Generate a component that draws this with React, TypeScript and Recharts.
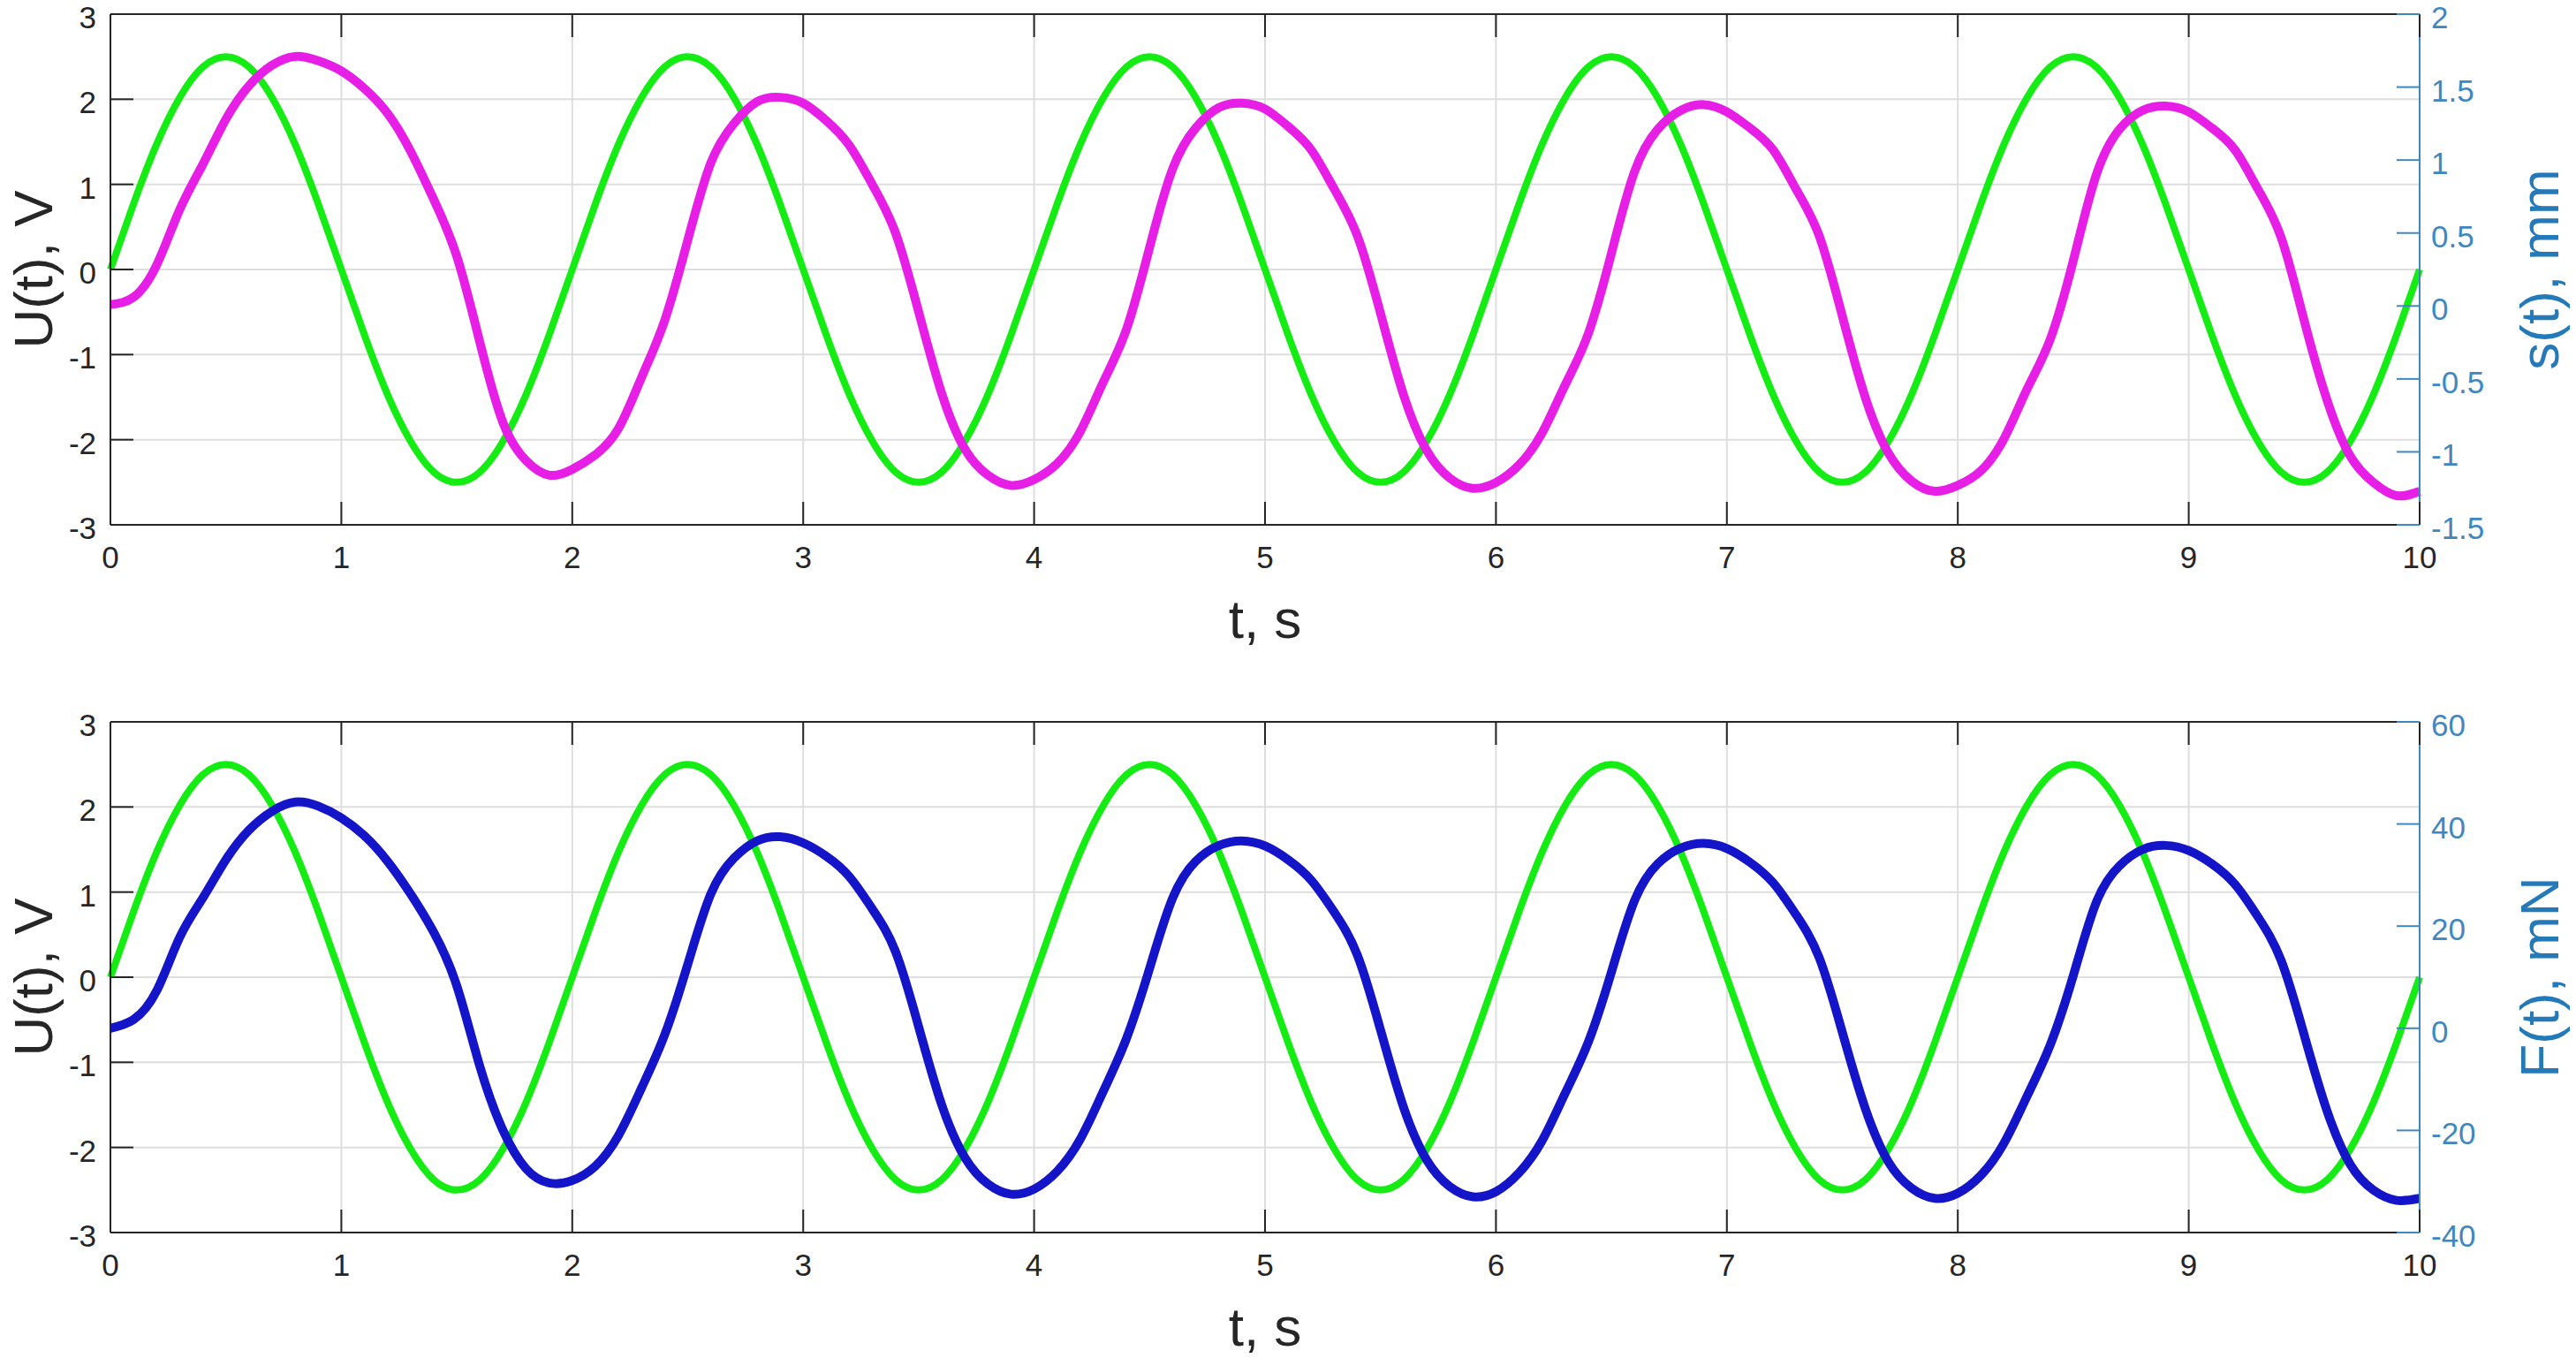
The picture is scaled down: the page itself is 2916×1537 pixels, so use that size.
import { CartesianGrid, Line, LineChart, XAxis, YAxis } from "recharts";

// sample times, s
const TIME = Array.from({ length: 101 }, (_, i) => i / 10);
const T_TICKS = [0, 1, 2, 3, 4, 5, 6, 7, 8, 9, 10];
const U_TICKS = [-3, -2, -1, 0, 1, 2, 3];
const S_TICKS = [-1.5, -1, -0.5, 0, 0.5, 1, 1.5, 2];
const F_TICKS = [-40, -20, 0, 20, 40, 60];

// U(t), V
const VOLTAGE = [
  0, 0.77, 1.47, 2.02, 2.38, 2.5, 2.38, 2.02, 1.47, 0.77, 0, -0.77, -1.47, -2.02, -2.38, -2.5, -2.38, -2.02, -1.47, -0.77,
  0, 0.77, 1.47, 2.02, 2.38, 2.5, 2.38, 2.02, 1.47, 0.77, 0, -0.77, -1.47, -2.02, -2.38, -2.5, -2.38, -2.02, -1.47, -0.77,
  0, 0.77, 1.47, 2.02, 2.38, 2.5, 2.38, 2.02, 1.47, 0.77, 0, -0.77, -1.47, -2.02, -2.38, -2.5, -2.38, -2.02, -1.47, -0.77,
  0, 0.77, 1.47, 2.02, 2.38, 2.5, 2.38, 2.02, 1.47, 0.77, 0, -0.77, -1.47, -2.02, -2.38, -2.5, -2.38, -2.02, -1.47, -0.77,
  0, 0.77, 1.47, 2.02, 2.38, 2.5, 2.38, 2.02, 1.47, 0.77, 0, -0.77, -1.47, -2.02, -2.38, -2.5, -2.38, -2.02, -1.47, -0.77,
  0,
];

// s(t), mm
const DISPLACEMENT = [
  0.01, 0.06, 0.28, 0.66, 0.97, 1.28, 1.51, 1.65, 1.71, 1.68, 1.61, 1.49, 1.32, 1.06, 0.73, 0.34, -0.25, -0.8, -1.06, -1.16,
  -1.12, -1.02, -0.84, -0.49, -0.1, 0.45, 0.98, 1.25, 1.4, 1.43, 1.39, 1.27, 1.1, 0.83, 0.5, -0.04, -0.6, -0.98, -1.16, -1.23,
  -1.19, -1.08, -0.86, -0.52, -0.16, 0.4, 0.94, 1.22, 1.36, 1.39, 1.35, 1.23, 1.07, 0.8, 0.48, -0.05, -0.61, -0.99, -1.18, -1.25,
  -1.21, -1.09, -0.87, -0.54, -0.19, 0.36, 0.92, 1.21, 1.34, 1.38, 1.33, 1.22, 1.07, 0.8, 0.48, -0.07, -0.63, -1.01, -1.2, -1.27,
  -1.23, -1.13, -0.91, -0.57, -0.23, 0.31, 0.9, 1.21, 1.34, 1.37, 1.33, 1.22, 1.07, 0.8, 0.47, -0.1, -0.65, -1.03, -1.21, -1.3,
  -1.27,
];

// F(t), mN
const FORCE = [
  0, 1.7, 7.3, 17.8, 25.5, 33, 38.8, 42.5, 44.3, 43.5, 41.2, 37.7, 32.7, 26.3, 18.8, 8.3, -7.5, -20, -27.5, -30.3,
  -29.8, -27, -21, -11.7, -1.3, 12.5, 26.3, 33.3, 36.7, 37.5, 36.3, 33.7, 29.7, 23.3, 15, 0.3, -15, -25.3, -30.5, -32.5,
  -31.5, -28, -21.7, -12.3, -2, 11.7, 25.5, 32.7, 35.8, 36.7, 35.7, 33, 29, 22.7, 14.3, -0.3, -15.5, -25.8, -31, -33,
  -32, -28.3, -22, -12.7, -2.7, 11, 25, 32.2, 35.3, 36.2, 35.2, 32.5, 28.5, 22.2, 13.8, -0.8, -15.8, -26.2, -31.3, -33.3,
  -32.3, -28.8, -22.5, -13.3, -3.3, 10.3, 24.7, 31.8, 35, 35.8, 34.8, 32.2, 28.2, 21.8, 13.3, -1.3, -16.3, -26.7, -31.7, -33.7,
  -33.3,
];

const rows = TIME.map((t, i) => ({ t, u: VOLTAGE[i], s: DISPLACEMENT[i], f: FORCE[i] }));

const FONT = '"Liberation Sans", Arial, sans-serif';
const DARK = "#262626";
const AXIS_BLUE = "#3f88bf";
const TITLE_BLUE = "#2479b8";
const W = 2916;
const LEFT_W = 125;
const RIGHT_W = 177;
const PLOT_H = 578;
const TICK_LEN = 26;
const TICK_FONT = 35;
const TITLE_FONT = 62;

function BottomTick({ x, y, payload }: any) {
  return (
    <g>
      <line x1={x} y1={y} x2={x} y2={y - TICK_LEN} stroke={DARK} strokeWidth={2} />
      <text x={x} y={y + 49} textAnchor="middle" fill={DARK} fontSize={TICK_FONT} fontFamily={FONT}>
        {payload.value}
      </text>
    </g>
  );
}

function TopTick({ x, y }: any) {
  return <line x1={x} y1={y} x2={x} y2={y + TICK_LEN} stroke={DARK} strokeWidth={2} />;
}

function LeftTick({ x, y, payload }: any) {
  return (
    <g>
      <line x1={x} y1={y} x2={x + TICK_LEN} y2={y} stroke={DARK} strokeWidth={2} />
      <text x={x - 16} y={y + 16} textAnchor="end" fill={DARK} fontSize={TICK_FONT} fontFamily={FONT}>
        {payload.value}
      </text>
    </g>
  );
}

function RightTick({ x, y, payload }: any) {
  return (
    <g>
      <line x1={x} y1={y} x2={x - TICK_LEN} y2={y} stroke={AXIS_BLUE} strokeWidth={2} />
      <text x={x + 13} y={y + 16} textAnchor="start" fill={AXIS_BLUE} fontSize={TICK_FONT} fontFamily={FONT}>
        {payload.value}
      </text>
    </g>
  );
}

function Panel({
  top,
  topGap,
  dataKey,
  color,
  rightDomain,
  rightTicks,
  rightTitle,
}: {
  top: number;
  topGap: number;
  dataKey: string;
  color: string;
  rightDomain: [number, number];
  rightTicks: number[];
  rightTitle: string;
}) {
  const height = topGap + PLOT_H + 140;
  const midY = topGap + PLOT_H / 2;
  const plotRight = W - RIGHT_W;
  return (
    <div style={{ position: "absolute", left: 0, top, width: W, height }}>
      <LineChart width={W} height={height} data={rows} margin={{ top: 0, right: 0, bottom: 0, left: 0 }}>
        <CartesianGrid xAxisId="b" yAxisId="left" stroke="#dedede" strokeWidth={2} />
        <XAxis
          xAxisId="b"
          dataKey="t"
          type="number"
          domain={[0, 10]}
          ticks={T_TICKS}
          interval={0}
          height={140}
          tickSize={0}
          tickMargin={0}
          tickLine={false}
          axisLine={{ stroke: DARK, strokeWidth: 2 }}
          tick={<BottomTick />}
        />
        <XAxis
          xAxisId="top"
          orientation="top"
          dataKey="t"
          type="number"
          domain={[0, 10]}
          ticks={T_TICKS}
          interval={0}
          height={topGap}
          tickSize={0}
          tickMargin={0}
          tickLine={false}
          axisLine={{ stroke: DARK, strokeWidth: 2 }}
          tick={<TopTick />}
        />
        <YAxis
          yAxisId="left"
          domain={[-3, 3]}
          ticks={U_TICKS}
          interval={0}
          width={LEFT_W}
          tickSize={0}
          tickMargin={0}
          tickLine={false}
          axisLine={{ stroke: DARK, strokeWidth: 2 }}
          tick={<LeftTick />}
        />
        <YAxis
          yAxisId="right"
          orientation="right"
          domain={rightDomain}
          ticks={rightTicks}
          interval={0}
          width={RIGHT_W}
          tickSize={0}
          tickMargin={0}
          tickLine={false}
          axisLine={{ stroke: AXIS_BLUE, strokeWidth: 2 }}
          tick={<RightTick />}
        />
        <Line
          xAxisId="b"
          yAxisId="left"
          type="natural"
          dataKey="u"
          stroke="#14ec14"
          strokeWidth={8}
          dot={false}
          isAnimationActive={false}
        />
        <Line
          xAxisId="b"
          yAxisId="right"
          type="natural"
          dataKey={dataKey}
          stroke={color}
          strokeWidth={10}
          dot={false}
          isAnimationActive={false}
        />
      </LineChart>
      <svg
        width={W}
        height={height}
        style={{ position: "absolute", left: 0, top: 0, pointerEvents: "none" }}
        fontFamily={FONT}
        fontSize={TITLE_FONT}
      >
        <text
          x={37}
          y={midY}
          transform={`rotate(-90 37 ${midY})`}
          textAnchor="middle"
          dominantBaseline="central"
          fill={DARK}
        >
          U(t), V
        </text>
        <text
          x={2874}
          y={midY}
          transform={`rotate(-90 2874 ${midY})`}
          textAnchor="middle"
          dominantBaseline="central"
          fill={TITLE_BLUE}
        >
          {rightTitle}
        </text>
        <text x={(LEFT_W + plotRight) / 2} y={topGap + PLOT_H + 128} textAnchor="middle" fill={DARK}>
          t, s
        </text>
      </svg>
    </div>
  );
}

export default function App() {
  return (
    <div
      style={{
        position: "absolute",
        left: 0,
        top: 0,
        width: W,
        height: 1537,
        background: "#ffffff",
        overflow: "hidden",
      }}
    >
      <Panel
        top={0}
        topGap={16}
        dataKey="s"
        color="#e61ee6"
        rightDomain={[-1.5, 2]}
        rightTicks={S_TICKS}
        rightTitle="s(t), mm"
      />
      <Panel
        top={780}
        topGap={37}
        dataKey="f"
        color="#1414c8"
        rightDomain={[-40, 60]}
        rightTicks={F_TICKS}
        rightTitle="F(t), mN"
      />
    </div>
  );
}
